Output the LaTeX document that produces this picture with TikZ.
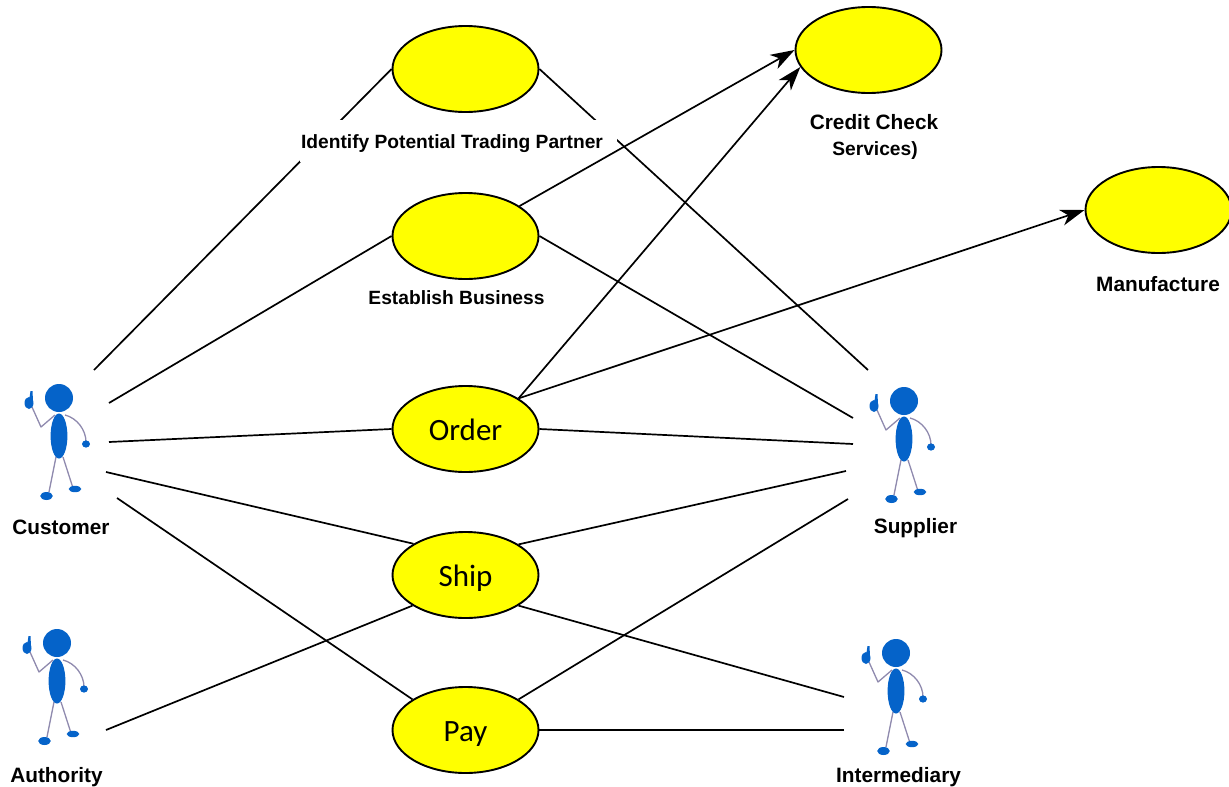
\documentclass[tikz,border=0pt]{standalone}
\usepackage{fontspec}
\setmainfont{Liberation Sans}
\newfontfamily\ucfont{Carlito}
\usetikzlibrary{arrows.meta,shapes.geometric}
\definecolor{actorblue}{HTML}{0563C9}
\definecolor{limbgrey}{HTML}{8F8AAE}
\definecolor{ucyellow}{HTML}{FFFF00}
\tikzset{
  usecase/.style={ellipse,draw=black,fill=ucyellow,line width=1.9pt,minimum width=146pt,minimum height=86pt,inner sep=0pt,text height=24pt,text depth=2pt,font=\ucfont\fontsize{31}{31}\selectfont},
  lab/.style={font=\bfseries\fontsize{20.8}{23}\selectfont,inner sep=0pt},
  midlab/.style={font=\bfseries\fontsize{19.2}{22}\selectfont,inner sep=0pt},
  conn/.style={line width=1.7pt,draw=black},
  arr/.style={conn,-{Stealth[length=24pt,width=16pt,inset=7pt]}},
  limb/.style={draw=limbgrey,line width=1.3pt,line join=round},
  part/.style={fill=actorblue,draw=none},
  pics/actor/.style={code={
    \draw[limb] (-4,17) -- (-18,29) -- (-27,9);
    \draw[limb] (6,17) .. controls (18,20) and (27,32) .. (27,44);
    \draw[limb] (-3,59) -- (-10,94);
    \draw[limb] (4,59) -- (14,90);
    \fill[part] (0,0) circle (14);
    \fill[part] (0,38) ellipse (8.4 and 22.5);
    \fill[part] (-30,5) ellipse (4.5 and 6);
    \fill[part] (-30,3) -- (-28.5,-7) -- (-26.5,-7) -- (-26,3) -- cycle;
    \fill[part] (27,46) ellipse (4 and 3.6);
    \fill[part] (-12.5,98) ellipse (6.3 and 4);
    \fill[part] (16,91) ellipse (6.3 and 3.2);
  }}
}
\begin{document}
\begin{tikzpicture}[x=1pt,y=-1pt]
\useasboundingbox (0,0) rectangle (1229,787);
\coordinate (c1) at (94,370);
\coordinate (c2) at (109,403);
\coordinate (c3) at (109,442);
\coordinate (c4) at (106,472);
\coordinate (c5) at (117,498);
\coordinate (a1) at (106,730);
\coordinate (s1) at (868,370);
\coordinate (s2) at (853,418);
\coordinate (s3) at (853,444);
\coordinate (s4) at (846,471);
\coordinate (s5) at (848,499);
\coordinate (i1) at (844,697);
\coordinate (i2) at (844,730);
% use cases
\node[usecase] (identify) at (465.5,69) {};
\node[usecase] (establish) at (465.5,236) {};
\node[usecase] (order) at (465.5,429) {Order};
\node[usecase] (ship) at (465.5,575) {Ship};
\node[usecase] (pay) at (465.5,730) {Pay};
\node[usecase] (credit) at (868.5,50) {};
\node[usecase] (manu) at (1158.5,210) {};
% connectors
\draw[conn] (c1) -- (identify.west);
\draw[conn] (s1) -- (identify.east);
\draw[conn] (c2) -- (establish.west);
\draw[conn] (s2) -- (establish.east);
\draw[conn] (c3) -- (order.west);
\draw[conn] (s3) -- (order.east);
\draw[conn] (c4) -- (ship.149);
\draw[conn] (s4) -- (ship.30);
\draw[conn] (a1) -- (ship.210);
\draw[conn] (i1) -- (ship.330);
\draw[conn] (c5) -- (pay.150);
\draw[conn] (s5) -- (pay.30);
\draw[conn] (i2) -- (pay.east);
% labels
\node[midlab,fill=white,minimum width=317pt,minimum height=42pt,text height=18pt,text depth=4pt] (lid) at (458.5,141) {\hspace*{-13pt}Identify Potential Trading Partner};
\draw[arr] (establish.29) -- (credit.west);
\draw[arr] (order.30) -- (credit.194);
\draw[arr] (order.30) -- (manu.west);
\node[midlab] (lest) at (456.5,298) {Establish Business};
\node[lab] (lcc) at (874,122.5) {Credit Check};
\node[midlab] (lsv) at (875,150.5) {Services)};
\node[lab] (lman) at (1158,284.5) {Manufacture};
\node[lab] (lcus) at (61,527.5) {Customer};
\node[lab] (lsup) at (915.5,528) {Supplier};
\node[lab] (laut) at (56.5,777) {Authority};
\node[lab] (lint) at (898.5,777) {Intermediary};
% actors
\pic (customer) at (59,398) {actor};
\pic (supplier) at (904,401) {actor};
\pic (authority) at (57,643) {actor};
\pic (intermediary) at (896,653) {actor};
\end{tikzpicture}
\end{document}
